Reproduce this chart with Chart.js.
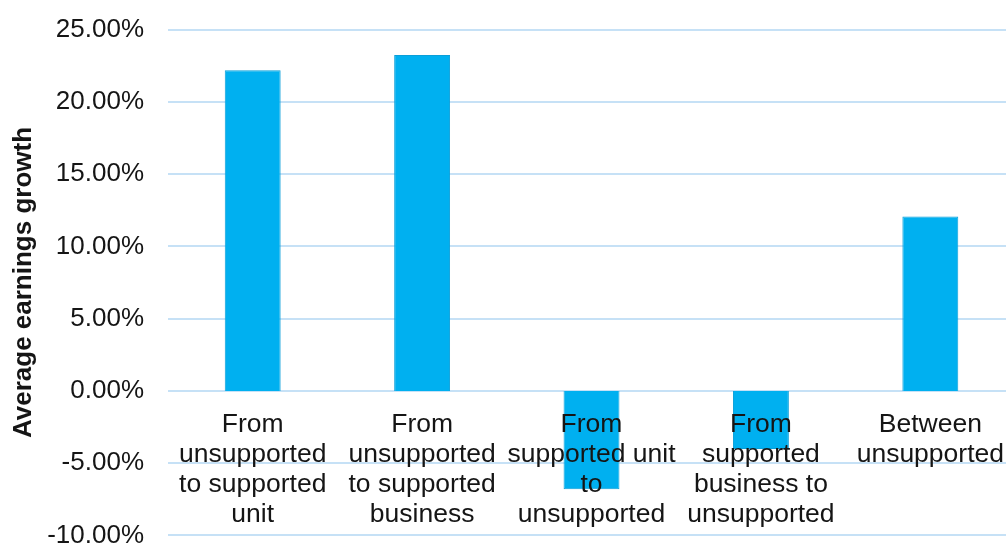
<!DOCTYPE html>
<html>
<head>
<meta charset="utf-8">
<script src="https://cdn.jsdelivr.net/npm/chart.js@4"></script>
<style>
  html, body { margin: 0; padding: 0; background: #fff; overflow: hidden; }
  /* canvas is a bit bigger than the window, so the edge labels can hang over */
  .wrap { position: absolute; left: 0; top: -10px; }
</style>
</head>
<body>
<div class="wrap"><canvas id="growthChart" width="1023" height="585"></canvas></div>
<script>
// categories, one array of lines per bar
let categories = [
  ['From', 'unsupported', 'to supported', 'unit'],
  ['From', 'unsupported', 'to supported', 'business'],
  ['From', 'supported unit', 'to', 'unsupported'],
  ['From', 'supported', 'business to', 'unsupported'],
  ['Between', 'unsupported']
];
// average earnings growth (fraction)
let growth = [0.2218, 0.2325, -0.0681, -0.0402, 0.1207];
// y axis range
let yMin = -0.10, yMax = 0.25, yStep = 0.05;

let textColor = '#151515';
let gridColor = '#c6e1f6';
let fontFamily = 'Liberation Sans, Arial, sans-serif';

function pct(v) {
  if (Math.abs(v) < 1e-9) v = 0;
  return (v * 100).toFixed(2) + '%';
}

let ctx = document.getElementById('growthChart');
let myChart = new Chart(ctx, {
  type: 'bar',
  data: {
    labels: categories,
    datasets: [{
      data: growth,
      backgroundColor: '#00b0f0',
      borderColor: '#0a9fd9',
      borderWidth: 1,
      barPercentage: 0.33,
      categoryPercentage: 1
    }]
  },
  options: {
    responsive: false,
    animation: false,
    devicePixelRatio: 1,
    layout: { padding: 0 },
    plugins: {
      legend: { display: false },
      tooltip: { enabled: false }
    },
    scales: {
      x: {
        // category labels sit right under the zero line, drawn over the bars
        position: { y: 0 },
        grid: { display: false, drawTicks: false },
        border: { display: false },
        ticks: {
          z: 1,
          color: textColor,
          font: { family: fontFamily, size: 26.5, lineHeight: 1.13 },
          padding: 19,
          maxRotation: 0,
          autoSkip: false
        }
      },
      y: {
        min: yMin,
        max: yMax,
        afterFit: function (scale) { scale.width = 168; },
        grid: { color: gridColor, lineWidth: 2, drawTicks: false },
        border: { display: false },
        ticks: {
          stepSize: yStep,
          color: textColor,
          padding: 24,
          font: { family: fontFamily, size: 26 },
          callback: pct
        },
        title: {
          display: true,
          text: 'Average earnings growth',
          color: textColor,
          padding: { top: 8, bottom: 0 },
          font: { family: fontFamily, size: 26, weight: 'bold' }
        }
      }
    }
  }
});
</script>
</body>
</html>
